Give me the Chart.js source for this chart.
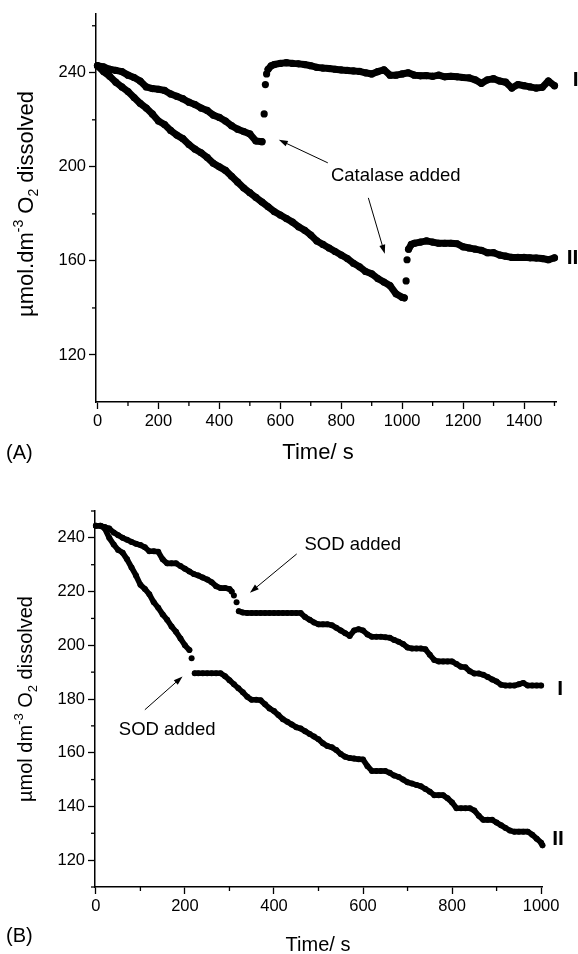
<!DOCTYPE html>
<html>
<head>
<meta charset="utf-8">
<script src="https://cdn.jsdelivr.net/npm/chart.js@4.4.1/dist/chart.umd.min.js"></script>
<style>
  html, body { margin: 0; padding: 0; background: #fff; }
  .panel { position: absolute; left: 0; width: 578px; }
  #panelA { top: 0; height: 480px; }
  #panelB { top: 480px; height: 474px; }
</style>
</head>
<body>
<div class="panel" id="panelA"><canvas id="chartA" width="578" height="480"></canvas></div>
<div class="panel" id="panelB"><canvas id="chartB" width="578" height="474"></canvas></div>
<script>
const FONT = "'Liberation Sans', Arial, Helvetica, sans-serif";

// Panel A: catalase added, time (s) vs dissolved O2
const timeA1 = [0,20,40,60,80,100,120,140,160,180,200,220,240,260,280,300,320,340,360,380,400,420,440,460,480,500,520,540,547,551,555,560,570,580,600,620,640,660,680,700,720,740,760,780,800,820,840,860,880,900,920,940,960,980,1000,1020,1040,1060,1080,1100,1120,1140,1160,1180,1200,1220,1240,1260,1280,1300,1320,1340,1360,1380,1400,1420,1440,1460,1480,1500];
const valueA1 = [243,242.5,241.5,241,240.5,239,238,236.5,234,233.3,233,232.5,231,230,229,227.5,226.5,225,224,222,221,219.5,217.5,216,215,214,211,210.7,222.5,235,239.5,241.5,243,243.5,244,244.3,244,243.8,243.5,243,242.3,242,241.8,241.5,241.2,241,240.8,240.6,240,239.5,240.5,241.3,239,239,239.5,240,239,238.7,238.8,238.5,239,238.3,238.5,238.3,238,237.8,237,235.5,237,237.5,236.5,236,233.5,235,234.5,234,233.5,233.8,236.5,234.5];
const dotsOnlyA1 = [540, 560];
const timeA2 = [0,20,40,60,80,100,120,140,160,180,200,220,240,260,280,300,320,340,360,380,400,420,440,460,480,500,520,540,560,580,600,620,640,660,680,700,720,740,760,780,800,820,840,860,880,900,920,940,960,980,1000,1007,1013,1016,1021,1030,1040,1060,1080,1100,1120,1140,1160,1180,1200,1220,1240,1260,1280,1300,1320,1340,1360,1380,1400,1420,1440,1460,1480,1500];
const valueA2 = [243,240.5,238.5,236,234,232,229.5,227,225,222.5,219.5,218,215.5,213.5,212,209.5,207.5,206,204,201.5,200,198.5,196,193.5,191,189,187,185,183,181,179.5,178,176.5,174.5,173,171,168.5,167,165.5,164,162.5,161,159,157.5,155.5,154.5,152.5,151,149.5,146,144.5,144.3,151.5,160.5,165,167,167.5,168,168.5,168,167.5,167.5,167.5,167.3,166,165.5,165,164.5,163.5,163.5,162.5,162,161.5,161.5,161.5,161.3,161.2,161,160.5,161.3];
const dotsOnlyA2 = [1007, 1021];
const xTicksA = [0,200,400,600,800,1000,1200,1400];
const xMinorA = [100,300,500,700,900,1100,1300,1500];
const yTicksA = [120,160,200,240];
const yMinorA = [140,180,220,260];

// Panel B: SOD added
const timeB1 = [0,10,20,30,40,50,60,70,80,90,100,110,120,130,140,150,160,170,180,190,200,210,220,230,240,250,260,270,280,290,300,305,310,316,321,330,340,350,360,370,380,390,400,410,420,430,440,450,460,470,480,490,500,510,520,530,540,550,560,570,580,590,600,610,620,630,640,650,660,670,680,690,700,710,720,730,740,750,760,770,780,790,800,810,820,830,840,850,860,870,880,890,900,910,920,930,940,950,960,970,980,990,1000];
const valueB1 = [244.5,244.5,244,243.5,242,241,240,239.3,238.5,237.8,237.3,236.5,235,235,234.8,232,230.5,230.5,230.5,229.5,228.5,227.5,226.5,226,225.2,224.5,223.5,222,221.3,221.3,221,220,218.5,216,212.7,212.2,212,212,212,212,212,212,212,212,212,212,212,212,212,210.5,209.5,208.5,207.8,207.8,207.8,207.5,206.5,205.5,204.5,203.5,205.5,206,205.5,204,203.2,203.2,203.2,203,202.8,202,201.3,200.5,199.2,198.8,198.8,198.8,198.5,196.5,194.5,194,194,194,194,193,192,191.8,190.3,189.5,189.5,189,188.2,187.3,186.5,185.3,185,185,185,185.5,186,185,185,185,185];
const dotsOnlyB1 = [305, 321];
const timeB2 = [0,10,20,30,40,50,60,70,80,90,100,110,120,130,140,150,160,170,180,190,200,210,215,222,230,240,250,260,270,280,290,300,310,320,330,340,350,360,370,380,390,400,410,420,430,440,450,460,470,480,490,500,510,520,530,540,550,560,570,580,590,600,610,620,630,640,650,660,670,680,690,700,710,720,730,740,750,760,770,780,790,800,810,820,830,840,850,860,870,880,890,900,910,920,930,940,950,960,970,980,990,1000,1003];
const valueB2 = [244.5,244.5,243.5,240,237.5,235.5,234.5,232,229,226,222.5,221,219,216,214,211.5,209.5,207,205,202.5,200,198.2,195.2,189.6,189.6,189.6,189.6,189.6,189.6,189.6,188.5,187,185.5,184,182.5,180.8,179.7,179.7,179.5,178,176.5,175.5,174,172.5,171.5,170.5,169.5,169,168,167,166,165,163.5,162.5,162,161,159.5,158.5,158,157.8,157.6,157.5,155,153.2,153.2,153.2,153.2,152.5,151.5,151,150,149,148.5,148,147.5,146.5,145.5,144.2,144.2,144.2,143,141.5,139.3,139.3,139.3,139.3,138.5,136.5,135,135,135,134,133,132,131,130.6,130.6,130.6,130.6,129.5,128,126.5,125.5];
const dotsOnlyB2 = [210, 222];
const xTicksB = [0,200,400,600,800,1000];
const xMinorB = [100,300,500,700,900];
const yTicksB = [120,140,160,180,200,220,240];
const yMinorB = [110,130,150,170,190,210,230,250];

function pts(t, v) { return t.map((x, i) => ({ x: x, y: v[i] })); }

function axis(min, max, ticks, size) {
  return {
    type: 'linear', min: min, max: max,
    afterBuildTicks: s => { s.ticks = ticks.map(v => ({ value: v })); },
    afterFit: s => { if (s.isHorizontal()) s.height = size; else s.width = size; },
    grid: { drawOnChartArea: false, drawTicks: true, tickLength: 7, tickColor: '#000', tickWidth: 1.3 },
    border: { display: true, color: '#000', width: 1.5 },
    ticks: { color: '#000', font: { family: FONT, size: 16.5 }, padding: 3, autoSkip: false, maxRotation: 0, callback: v => String(v) }
  };
}

// thick line of overlapping dots; no line across the jumps where points stand apart
function series(label, t, v, gap, width, r) {
  return {
    label: label, data: pts(t, v), showLine: true,
    borderColor: '#000', backgroundColor: '#000', borderWidth: width,
    borderCapStyle: 'round', borderJoinStyle: 'round',
    pointRadius: r, pointBorderWidth: 0, pointHoverRadius: 0, clip: false,
    segment: {
      borderColor: c => (c.p0.parsed.x >= gap[0] && c.p1.parsed.x <= gap[1]) ? 'rgba(0,0,0,0)' : '#000'
    }
  };
}

// minor ticks, axis titles, arrows and labels
const notesPlugin = {
  id: 'notes',
  afterDraw(chart, args, o) {
    const ctx = chart.ctx, xs = chart.scales.x, ys = chart.scales.y;
    const a = chart.chartArea;
    ctx.save();
    ctx.strokeStyle = '#000';
    ctx.lineWidth = 1.3;
    o.xMinor.forEach(v => {
      const p = xs.getPixelForValue(v);
      ctx.beginPath(); ctx.moveTo(p, a.bottom); ctx.lineTo(p, a.bottom + 4); ctx.stroke();
    });
    o.yMinor.forEach(v => {
      const p = ys.getPixelForValue(v);
      ctx.beginPath(); ctx.moveTo(a.left, p); ctx.lineTo(a.left - 4, p); ctx.stroke();
    });

    // arrows
    ctx.lineWidth = 1;
    ctx.fillStyle = '#000';
    o.arrows.forEach(ar => {
      const x1 = xs.getPixelForValue(ar[0]), y1 = ys.getPixelForValue(ar[1]);
      const x2 = xs.getPixelForValue(ar[2]), y2 = ys.getPixelForValue(ar[3]);
      const ang = Math.atan2(y2 - y1, x2 - x1);
      ctx.beginPath(); ctx.moveTo(x1, y1); ctx.lineTo(x2 - 6 * Math.cos(ang), y2 - 6 * Math.sin(ang)); ctx.stroke();
      ctx.beginPath();
      ctx.moveTo(x2, y2);
      ctx.lineTo(x2 - 9 * Math.cos(ang) + 3 * Math.sin(ang), y2 - 9 * Math.sin(ang) - 3 * Math.cos(ang));
      ctx.lineTo(x2 - 9 * Math.cos(ang) - 3 * Math.sin(ang), y2 - 9 * Math.sin(ang) + 3 * Math.cos(ang));
      ctx.closePath(); ctx.fill();
    });

    // annotation texts at data positions
    ctx.textBaseline = 'middle';
    o.texts.forEach(tx => {
      ctx.font = (tx.bold ? 'bold ' : '') + tx.size + 'px ' + FONT;
      ctx.textAlign = tx.align || 'center';
      ctx.fillText(tx.t, xs.getPixelForValue(tx.x), ys.getPixelForValue(tx.y));
    });

    // x title and panel letter
    ctx.font = o.titleSize + 'px ' + FONT;
    ctx.textAlign = 'center';
    ctx.fillText('Time/ s', o.xTitle[0], o.xTitle[1]);
    ctx.font = '20px ' + FONT;
    ctx.textAlign = 'left';
    ctx.fillText(o.panel[0], o.panel[1], o.panel[2]);

    // rotated y title with super/subscripts
    ctx.translate(o.yTitle[0], o.yTitle[1]);
    ctx.rotate(-Math.PI / 2);
    ctx.textBaseline = 'alphabetic';
    let w = 0;
    o.yParts.forEach(p => { ctx.font = p.s + 'px ' + FONT; p.w = ctx.measureText(p.t).width; w += p.w; });
    let x = -w / 2;
    o.yParts.forEach(p => { ctx.font = p.s + 'px ' + FONT; ctx.fillText(p.t, x, p.dy); x += p.w; });
    ctx.restore();
  }
};

function makeChart(id, ds, xs, ys, pad, notes) {
  return new Chart(document.getElementById(id), {
    type: 'scatter',
    data: { datasets: ds },
    options: {
      responsive: false, animation: false, events: [],
      layout: { padding: pad },
      plugins: { legend: { display: false }, tooltip: { enabled: false }, notes: notes },
      scales: { x: xs, y: ys }
    },
    plugins: [notesPlugin]
  });
}

makeChart('chartA',
  [series('I', timeA1, valueA1, dotsOnlyA1, 7, 3.6), series('II', timeA2, valueA2, dotsOnlyA2, 7, 3.6)],
  axis(-5, 1505, xTicksA, 78), axis(100, 265, yTicksA, 96),
  { left: 0, right: 22, top: 14, bottom: 0 },
  {
    xMinor: xMinorA, yMinor: yMinorA,
    arrows: [[756, 201.7, 595, 211.5], [889, 186.8, 943, 163]],
    texts: [
      { t: 'Catalase added', x: 979, y: 196.2, size: 18.5 },
      { t: 'I', x: 1560, y: 237, size: 21, bold: true, align: 'left' },
      { t: 'II', x: 1540, y: 161, size: 21, bold: true, align: 'left' }
    ],
    titleSize: 22, xTitle: [318, 453], panel: ['(A)', 6, 453],
    yTitle: [33, 204],
    yParts: [{ t: 'µmol.dm', s: 22, dy: 0 }, { t: '-3', s: 14, dy: -10 }, { t: ' O', s: 22, dy: 0 }, { t: '2', s: 14, dy: 5 }, { t: ' dissolved', s: 22, dy: 0 }]
  });

makeChart('chartB',
  [series('I', timeB1, valueB1, dotsOnlyB1, 5.6, 3), series('II', timeB2, valueB2, dotsOnlyB2, 5.6, 3)],
  axis(-2, 1002, xTicksB, 67), axis(110, 250, yTicksB, 95),
  { left: 0, right: 36, top: 31, bottom: 0 },
  {
    xMinor: xMinorB, yMinor: yMinorB,
    arrows: [[451, 234, 346, 219.6], [110, 176, 194.6, 188.4]],
    texts: [
      { t: 'SOD added', x: 577, y: 237.3, size: 18.5 },
      { t: 'SOD added', x: 160, y: 168.6, size: 18.5 },
      { t: 'I', x: 1036, y: 183.5, size: 21, bold: true, align: 'left' },
      { t: 'II', x: 1025, y: 127.8, size: 21, bold: true, align: 'left' }
    ],
    titleSize: 20, xTitle: [318, 465], panel: ['(B)', 6, 456],
    yTitle: [32, 219],
    yParts: [{ t: 'µmol dm', s: 20, dy: 0 }, { t: '-3', s: 13, dy: -9 }, { t: ' O', s: 20, dy: 0 }, { t: '2', s: 13, dy: 5 }, { t: ' dissolved', s: 20, dy: 0 }]
  });
</script>
</body>
</html>
